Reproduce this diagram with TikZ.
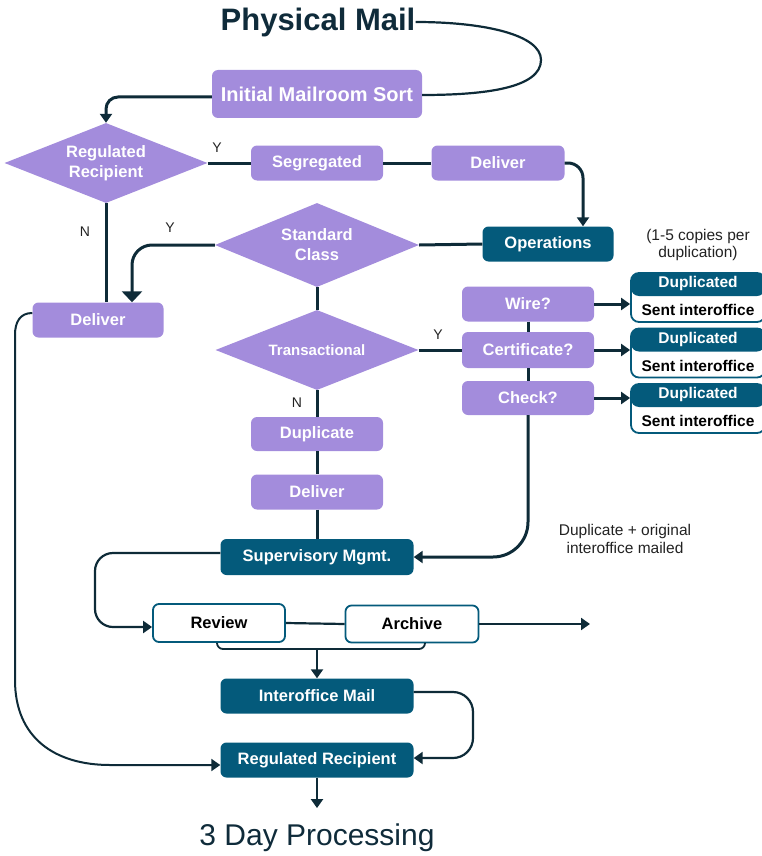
\documentclass[tikz,border=0pt]{standalone}
\usepackage{fontspec}
\setmainfont{Liberation Sans}
\usetikzlibrary{arrows.meta,shapes.geometric,calc}
\definecolor{purp}{HTML}{A38CDC}
\definecolor{tealC}{HTML}{045A7B}
\definecolor{lineC}{HTML}{0E2B38}
\definecolor{titleC}{HTML}{0F2B3A}
\definecolor{txtC}{HTML}{222222}
\tikzset{
  boxbase/.style={rounded corners=6, inner sep=0, minimum width=132, minimum height=35,
     font=\bfseries\fontsize{16.5}{19}\selectfont},
  pbox/.style={boxbase, fill=purp, text=white},
  tbox/.style={boxbase, fill=tealC, text=white},
  wbox/.style={boxbase, fill=white, draw=tealC, line width=1.8, text=black},
  dia/.style={diamond, fill=purp, text=white, inner sep=0, aspect=2.5, align=center,
     font=\bfseries\fontsize{16.5}{20}\selectfont},
  dupbox/.style={draw=tealC, line width=1.8, fill=white, rounded corners=8, minimum width=134,
     minimum height=49, inner sep=0,
     path picture={\fill[tealC] (path picture bounding box.north west) rectangle ([yshift=-23]path picture bounding box.north east);}},
  duptop/.style={inner sep=0, text=white, font=\bfseries\fontsize{15.5}{18}\selectfont},
  dupbot/.style={inner sep=0, text=black, font=\bfseries\fontsize{15.5}{18}\selectfont},
  lbl/.style={inner sep=0, text=txtC, font=\fontsize{14}{16}\selectfont},
  note/.style={inner sep=0, text=txtC, align=center, font=\fontsize{15.5}{17.5}\selectfont},
  conn/.style={draw=lineC, line width=3},
  thinconn/.style={draw=lineC, line width=2.2},
  arr/.style={-{Triangle[width=12,length=9]}},
  bigarr/.style={-{Triangle[width=20,length=11]}}
}
\begin{document}
\begin{tikzpicture}[x=1pt,y=-1pt]
\useasboundingbox (0,0) rectangle (761,856);

% nodes
\node[inner sep=0, text=titleC, font=\bfseries\fontsize{31}{34}\selectfont] (title) at (318,22) {Physical Mail};
\node[pbox, minimum width=210, minimum height=48, font=\bfseries\fontsize{20}{22}\selectfont] (init) at (317,94) {Initial Mailroom Sort};
\node[dia, minimum width=203, minimum height=80] (rr) at (106,163) {Regulated\\Recipient};
\node[pbox] (seg) at (317,163) {Segregated};
\node[pbox, minimum width=133] (del1) at (498,163) {Deliver};
\node[tbox, minimum width=131] (ops) at (548,244) {Operations};
\node[dia, minimum width=204, minimum height=84] (std) at (317,245) {Standard\\Class};
\node[pbox, minimum width=131] (del2) at (98,320) {Deliver};
\node[dia, minimum width=203, minimum height=80, font=\bfseries\fontsize{15}{18}\selectfont] (trans) at (317,350) {Transactional};
\node[pbox] (wire) at (528,304) {Wire?};
\node[pbox, minimum height=36] (cert) at (528,350) {Certificate?};
\node[pbox, minimum height=34] (check) at (528,398) {Check?};

\node[dupbox] (d1) at (698,297.5) {};
\node[duptop] (d1h) at ([yshift=-11.5]d1.north) {Duplicated};
\node[dupbot] (d1b) at ([yshift=12.5]d1.south) {Sent interoffice};
\node[dupbox] (d2) at (698,353) {};
\node[duptop] (d2h) at ([yshift=-11.5]d2.north) {Duplicated};
\node[dupbot] (d2b) at ([yshift=12.5]d2.south) {Sent interoffice};
\node[dupbox] (d3) at (698,408.5) {};
\node[duptop] (d3h) at ([yshift=-11.5]d3.north) {Duplicated};
\node[dupbot] (d3b) at ([yshift=12.5]d3.south) {Sent interoffice};

\node[note] (copies) at (698,245) {(1-5 copies per\\duplication)};

\node[pbox, minimum height=34] (dup) at (317,434) {Duplicate};
\node[pbox] (del3) at (317,492) {Deliver};
\node[tbox, minimum width=193, minimum height=36] (sup) at (317,557) {Supervisory Mgmt.};
\node[note] (dnote) at (625,539) {Duplicate + original\\interoffice mailed};
\node[wbox, minimum height=38] (review) at (219,623) {Review};
\node[wbox, minimum width=133, minimum height=37] (archive) at (412,624) {Archive};
\node[tbox, minimum width=193] (inter) at (317,696) {Interoffice Mail};
\node[tbox, minimum width=193] (rr2) at (317,760) {Regulated Recipient};
\node[inner sep=0, anchor=base, text=titleC, font=\fontsize{30}{34}\selectfont] (proc) at (317,845) {3 Day Processing};

% labels
\node[lbl] (y1) at (217,148) {Y};
\node[lbl] (n1) at (85,232) {N};
\node[lbl] (y2) at (170,228) {Y};
\node[lbl] (y3) at (438,335) {Y};
\node[lbl] (n2) at (297,403) {N};

% helper coordinates
\coordinate (archout) at (590,624);
\coordinate (bm) at (317,649);

% connectors
\draw[thinconn] (title.east) .. controls (485,22) and (541,35) .. (541,60)
   .. controls (541,88) and (485,95) .. ([yshift=-1]init.east);
\draw[conn, arr, rounded corners=12] ([yshift=-3]init.west) -| (rr.north);
\draw[conn] (rr.east) -- (seg.west);
\draw[conn] (seg.east) -- (del1.west);
\draw[conn, arr, rounded corners=15] (del1.east) -| ([xshift=35]ops.north);
\draw[conn] (ops.west) -- (std.east);
\draw[conn, bigarr, rounded corners=20] (std.west) -| ([xshift=34]del2.north);
\draw[conn] (rr.south) -- (rr.south |- del2.north);
\draw[conn] (std.south) -- (trans.north);
\draw[conn] (trans.east) -- (cert.west);
\draw[conn] (wire.south) -- (cert.north);
\draw[conn] (cert.south) -- (check.north);
\draw[conn, arr, rounded corners=35] (check.south) |- (sup.east);
\draw[conn, arr] (wire.east) -- (wire.east -| d1.west);
\draw[conn, arr] (cert.east) -- (cert.east -| d2.west);
\draw[conn, arr] (check.east) -- (check.east -| d3.west);
\draw[conn] (trans.south) -- (dup.north);
\draw[conn] (dup.south) -- (del3.north);
\draw[conn] (del3.south) -- (sup.north);
\draw[thinconn, arr, rounded corners=18] ([yshift=4]sup.west) -- (95,553) -- (95,627) -- ([yshift=-4]review.west);
\draw[thinconn] (review.east) -- (archive.west);
\draw[thinconn, arr] (archive.east) -- (archout);
\draw[draw=lineC, line width=1.8, rounded corners=6] ([xshift=-2]review.south) |- (bm) -| ([xshift=13]archive.south);
\draw[thinconn, arr] (bm) -- (bm |- inter.north);
\draw[thinconn, arr, rounded corners=20] ([yshift=4]inter.east) -- (473,692) -- (473,758) -- ([yshift=2]rr2.east);
\draw[draw=lineC, line width=2, arr] ([yshift=7]del2.west) .. controls (20,313) and (15,322) .. (15,335)
   -- (15,680) .. controls (15,738) and (55,765) .. (110,765) -- ([yshift=-5]rr2.west);
\draw[thinconn, arr] (rr2.south) -- ([yshift=15]proc.north);
\end{tikzpicture}
\end{document}
